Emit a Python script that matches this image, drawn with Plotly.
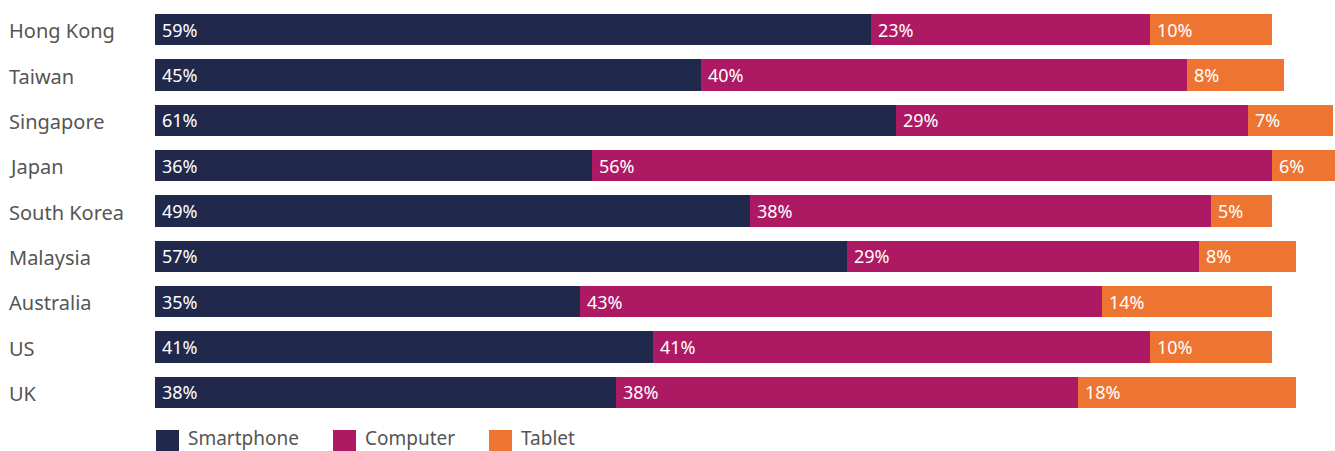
import plotly.graph_objects as go

countries = ["Hong Kong", "Taiwan", "Singapore", "Japan", "South Korea",
             "Malaysia", "Australia", "US", "UK"]
smartphone = [59, 45, 61, 36, 49, 57, 35, 41, 38]
computer = [23, 40, 29, 56, 38, 29, 43, 41, 38]
tablet = [10, 8, 7, 6, 5, 8, 14, 10, 18]
series_names = ["Smartphone", "Computer", "Tablet"]
colors = ["#20294C", "#AD1A63", "#EE7431"]

FONT = "Noto Sans"
W, H = 1335, 451
ML, MR, MT, MB = 155, 0, 7, 36
PW = W - ML - MR
PH = H - MT - MB

fig = go.Figure()
series = [smartphone, computer, tablet]
for name, vals, col in zip(series_names, series, colors):
    fig.add_trace(go.Bar(
        y=countries, x=vals, name=name, orientation="h",
        marker=dict(color=col, line=dict(width=0)),
        showlegend=False, hoverinfo="x+name",
    ))

annotations = []
# value labels, left-aligned inside each segment
for i, c in enumerate(countries):
    base = 0
    for vals in series:
        annotations.append(dict(
            x=base, y=c, xref="x", yref="y", text=f"{vals[i]}%",
            showarrow=False, xanchor="left", yanchor="middle", xshift=5, yshift=0,
            font=dict(family=FONT, size=18, color="white"),
        ))
        base += vals[i]

# category labels, left-aligned at the left edge
for c in countries:
    annotations.append(dict(
        x=(7 - ML) / PW, y=c, xref="paper", yref="y", text=c,
        showarrow=False, xanchor="left", yanchor="middle", yshift=-1,
        font=dict(family=FONT, size=20, color="#555555"),
    ))

# custom legend
def px_x(p):
    return (p - ML) / PW

def px_y(p):
    return (H - MB - p) / PH

shapes = []
legend_x = [156, 333, 489]
for name, col, lx in zip(series_names, colors, legend_x):
    shapes.append(dict(
        type="rect", xref="paper", yref="paper",
        x0=px_x(lx), x1=px_x(lx + 23), y0=px_y(453), y1=px_y(430),
        fillcolor=col, line=dict(width=0), layer="above",
    ))
    annotations.append(dict(
        x=px_x(lx + 31), y=px_y(438), xref="paper", yref="paper", text=name,
        showarrow=False, xanchor="left", yanchor="middle", borderpad=0,
        font=dict(family=FONT, size=19, color="#555555"),
    ))

fig.update_layout(
    width=W, height=H,
    margin=dict(l=ML, r=MR, t=MT, b=MB, pad=0),
    barmode="stack", bargap=0.315,
    paper_bgcolor="white", plot_bgcolor="white",
    xaxis=dict(range=[0, PW / 12.14], visible=False, fixedrange=True),
    yaxis=dict(autorange="reversed", showticklabels=False, showgrid=False,
               zeroline=False, showline=False, ticks="", fixedrange=True),
    annotations=annotations, shapes=shapes,
    font=dict(family=FONT),
)

fig.write_html("out.html", config={"displayModeBar": False})
